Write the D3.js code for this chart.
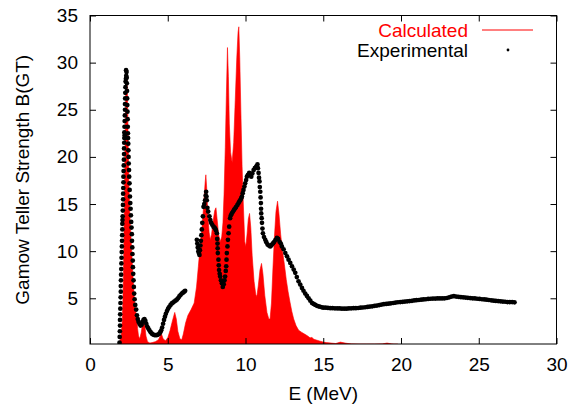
<!DOCTYPE html>
<html>
<head>
<meta charset="utf-8">
<script src="https://cdn.jsdelivr.net/npm/d3@7"></script>
<style>
  html, body { margin: 0; padding: 0; background: #fff; }
  svg { display: block; }
  text { font-family: "Liberation Sans", Arial, Helvetica, sans-serif; }
</style>
</head>
<body>
<svg id="chart" width="578" height="405"></svg>
<script>
// ---- data (E in MeV, B(GT)) ----
const xTicks = [0, 5, 10, 15, 20, 25, 30];
const yTicks = [5, 10, 15, 20, 25, 30, 35];
const legendLabels = ["Calculated", "Experimental"];

const calculated = [
  [1.8,0],[1.9,0.3],[2.0,1.0],[2.07,2.5],[2.12,5],[2.16,9],[2.2,14],[2.24,20],[2.28,25],[2.33,28.8],
  [2.38,28.5],[2.42,25.5],[2.46,21],[2.5,17],[2.56,14],[2.62,12],[2.68,10],[2.74,8],[2.79,6.6],[2.85,5],
  [2.92,3.8],[3.0,3.0],[3.06,1.8],[3.12,1.0],[3.2,0.7],[3.3,1.4],[3.38,2.4],[3.45,2.9],[3.52,2.2],[3.6,1.0],
  [3.7,0.4],[3.85,0.25],[4.0,0.3],[4.2,0.4],[4.4,0.6],[4.52,1.0],[4.6,1.2],[4.7,0.7],[4.85,0.5],[5.0,0.8],
  [5.15,1.6],[5.3,2.6],[5.45,3.5],[5.55,2.8],[5.65,1.5],[5.78,0.7],[5.9,0.6],[6.0,1.2],[6.15,2.4],[6.3,3.2],
  [6.5,3.8],[6.7,4.5],[6.85,6.2],[6.97,8.4],[7.08,10.5],[7.19,12.2],[7.3,14.6],[7.4,17.2],[7.45,18.1],[7.5,16.8],
  [7.58,13.8],[7.66,12.0],[7.73,11.2],[7.82,11.8],[7.92,13.2],[8.02,14.3],[8.1,14.6],[8.18,13.3],[8.27,11.8],[8.37,11.0],
  [8.47,11.5],[8.55,13],[8.62,16],[8.7,21],[8.77,26.5],[8.84,31.6],[8.9,28.5],[8.96,23.5],[9.04,20.5],[9.14,19.4],
  [9.24,21.5],[9.34,26],[9.44,30.5],[9.52,33.2],[9.57,33.8],[9.63,30.5],[9.7,25],[9.78,19],[9.86,15],[9.95,11],
  [10.02,10.5],[10.1,11.8],[10.18,13.4],[10.26,14.0],[10.34,12.5],[10.43,9.5],[10.55,6.8],[10.66,5.4],[10.73,5.2],[10.82,6.3],
  [10.93,8.0],[11.03,8.7],[11.12,7.6],[11.24,5.3],[11.38,3.5],[11.5,2.8],[11.58,2.8],[11.67,4.5],[11.76,8],[11.86,11.5],
  [11.96,14.2],[12.06,15.3],[12.15,14],[12.26,11.8],[12.38,10],[12.5,8.6],[12.62,7],[12.74,5.7],[12.86,4.6],[12.98,3.6],
  [13.1,2.8],[13.25,2.1],[13.42,1.6],[13.6,1.4],[13.8,1.2],[14.0,1.0],[14.15,0.8],[14.27,0.85],[14.4,0.65],[14.6,0.55],
  [14.8,0.45],[15.0,0.35],[15.2,0.3],[15.5,0.25],[15.8,0.2],[16.1,0.35],[16.4,0.25],[16.8,0.15],[17.3,0.1],[17.8,0.1],
  [18.3,0.1],[18.8,0.15],[19.1,0.25],[19.4,0.15],[19.8,0]
];

const experimental = [
  // first peak, rising flank
  [1.90,0.3],[1.91,0.9],[1.92,1.5],[1.93,2.1],[1.93,2.7],[1.94,3.3],[1.95,3.9],[1.96,4.5],[1.97,5.1],[1.98,5.7],
  [1.98,6.3],[1.99,6.9],[2.00,7.5],[2.01,8.1],[2.02,8.7],[2.03,9.3],[2.04,9.9],[2.05,10.5],[2.06,11.1],[2.07,11.7],
  [2.08,12.3],[2.08,12.9],[2.09,13.3],[2.10,13.7],[2.11,14.3],[2.12,14.9],[2.13,15.5],[2.13,16.1],[2.14,16.7],[2.15,17.3],
  [2.15,17.9],[2.16,18.5],[2.17,19.1],[2.18,19.7],[2.19,20.3],[2.19,20.9],[2.20,21.5],[2.21,22.0],[2.23,22.3],[2.25,22.0],
  [2.21,22.6],[2.22,23.2],[2.23,23.8],[2.24,24.4],[2.25,25.0],[2.25,25.6],[2.26,26.2],[2.27,26.8],[2.28,27.4],[2.29,28.0],
  [2.31,28.3],[2.33,28.6],[2.32,29.2],
  // first peak, falling flank
  [2.35,29.0],[2.36,28.4],[2.37,27.8],[2.38,27.0],[2.39,26.2],[2.40,25.5],[2.41,24.8],[2.42,24.0],[2.43,23.2],[2.44,22.5],
  [2.45,22.0],[2.46,21.4],[2.47,20.7],[2.48,20.0],[2.49,19.3],[2.51,18.6],[2.52,17.9],[2.54,17.2],[2.55,16.5],[2.57,15.8],
  [2.59,15.1],[2.61,14.5],[2.63,13.8],[2.65,13.1],[2.67,12.5],[2.69,11.8],[2.70,11.1],[2.72,10.4],[2.73,9.7],[2.75,9.0],
  [2.76,8.3],[2.78,7.6],[2.80,6.9],[2.82,6.2],[2.84,5.5],[2.87,4.9],[2.91,4.3],[2.97,3.8],
  // low region 3-6 MeV
  [3.02,3.2],[3.07,2.8],[3.12,2.5],[3.18,2.3],[3.25,2.1],[3.32,2.2],[3.38,2.5],[3.44,2.7],[3.50,2.8],[3.56,2.6],
  [3.62,2.3],[3.68,2.0],[3.75,1.8],[3.82,1.6],[3.90,1.4],[3.98,1.25],[4.06,1.15],[4.14,1.1],[4.22,1.1],[4.30,1.1],
  [4.38,1.15],[4.46,1.25],[4.52,1.4],[4.58,1.6],[4.64,1.9],[4.70,2.3],[4.76,2.7],[4.82,3.05],[4.88,3.35],[4.95,3.65],
  [5.02,3.9],[5.10,4.1],[5.18,4.3],[5.26,4.45],[5.34,4.55],[5.42,4.65],[5.50,4.75],[5.58,4.85],[5.66,5.0],[5.74,5.2],
  [5.82,5.35],[5.90,5.5],[5.98,5.6],[6.06,5.7],[6.12,5.8],
  // 7-11 MeV region
  [6.87,11.2],[6.90,10.8],[6.93,10.4],[6.97,10.0],[7.00,9.8],[7.04,9.6],[7.07,10.1],[7.10,10.6],[7.13,11.1],[7.16,11.7],
  [7.19,12.3],[7.22,13.0],[7.26,13.7],[7.30,14.7],[7.35,15.0],[7.40,15.4],[7.44,15.9],[7.47,16.3],[7.49,15.8],[7.51,15.4],
  [7.55,14.6],[7.60,14.2],[7.68,13.7],[7.74,13.3],[7.79,13.0],[7.86,12.8],[7.94,12.6],[8.00,12.5],[8.05,12.4],[8.10,12.2],
  [8.16,11.9],[8.18,11.3],[8.20,10.8],[8.21,10.3],[8.22,9.8],[8.26,9.1],[8.28,8.5],[8.30,8.0],[8.34,7.6],[8.37,7.3],
  [8.42,6.9],[8.48,6.6],[8.54,6.2],[8.60,6.5],[8.65,6.9],[8.69,7.3],[8.73,7.9],[8.76,8.4],[8.78,9.1],[8.80,9.8],
  [8.84,10.5],[8.87,11.2],[8.91,11.9],[8.95,12.6],[9.01,13.5],[9.06,13.8],[9.12,14.0],[9.20,14.2],[9.27,14.4],[9.34,14.55],
  [9.40,14.7],[9.48,14.9],[9.55,15.1],[9.60,15.25],[9.66,15.4],[9.72,15.6],[9.77,15.8],[9.82,16.15],[9.87,16.5],[9.93,16.85],
  [9.98,17.2],[10.04,17.55],[10.09,17.9],[10.16,18.1],[10.24,18.3],[10.30,18.1],[10.37,17.9],[10.44,18.25],[10.52,18.6],[10.60,18.8],
  [10.69,19.0],[10.77,19.2],[10.80,18.8],[10.84,18.3],[10.87,17.8],[10.90,17.4],[10.92,16.8],[10.95,16.3],[10.97,15.7],[10.99,15.1],
  [11.00,14.5],[11.01,14.0],[11.04,13.5],[11.06,13.0],[11.09,12.4],[11.12,11.9],[11.19,11.5],[11.27,11.2],[11.34,10.95],[11.42,10.7],
  [11.50,10.6],[11.59,10.5],[11.65,10.6],[11.70,10.7],[11.78,10.85],[11.85,11.0],[11.93,11.2],[12.02,11.4],[12.10,11.3],[12.19,11.0],
  [12.27,10.8],[12.34,10.5],[12.45,10.2],[12.56,9.8],[12.67,9.45],[12.77,9.1],[12.88,8.75],[12.99,8.4],[13.10,8.05],[13.20,7.7],
  [13.30,7.25],[13.41,6.8],[13.52,6.45],[13.63,6.1],[13.73,5.8],[13.84,5.5],[13.95,5.25],[14.06,5.0],[14.17,4.75],[14.28,4.5],
  [14.38,4.4],[14.49,4.3],
  // tail
  [14.6,4.2],[14.7,4.15],[14.8,4.1],[14.9,4.05],[15.0,4.0],[15.15,4.0],[15.3,3.98],[15.45,3.95],[15.6,3.95],[15.75,3.93],
  [15.9,3.92],[16.05,3.92],[16.2,3.9],[16.35,3.9],[16.5,3.9],[16.65,3.92],[16.8,3.93],[16.95,3.95],[17.1,3.95],[17.25,3.97],
  [17.4,4.0],[17.55,4.02],[17.7,4.05],[17.85,4.08],[18.0,4.12],[18.15,4.15],[18.3,4.2],[18.45,4.23],[18.6,4.28],[18.75,4.33],
  [18.9,4.37],[19.05,4.4],[19.2,4.43],[19.35,4.47],[19.5,4.5],[19.65,4.55],[19.8,4.58],[19.95,4.6],[20.1,4.62],[20.25,4.65],
  [20.4,4.68],[20.55,4.7],[20.7,4.73],[20.85,4.77],[21.0,4.8],[21.15,4.82],[21.3,4.85],[21.45,4.88],[21.6,4.9],[21.75,4.93],
  [21.9,4.95],[22.05,4.97],[22.2,4.97],[22.35,4.98],[22.5,4.98],[22.65,4.98],[22.8,5.0],[22.95,5.03],[23.1,5.1],[23.25,5.18],
  [23.4,5.22],[23.55,5.18],[23.7,5.15],[23.85,5.12],[24.0,5.1],[24.15,5.07],[24.3,5.05],[24.45,5.02],[24.6,5.0],[24.75,4.98],
  [24.9,4.95],[25.05,4.93],[25.2,4.9],[25.35,4.88],[25.5,4.85],[25.65,4.82],[25.8,4.78],[25.95,4.75],[26.1,4.72],[26.25,4.7],
  [26.4,4.68],[26.55,4.65],[26.7,4.63],[26.85,4.6],[27.0,4.6],[27.15,4.6],[27.3,4.57]
];

// ---- layout ----
const W = 578, H = 405;
const L = 90, R = 556.5, T = 15.5, B = 344;
const fontSize = 19;

const svg = d3.select("#chart");
const x = d3.scaleLinear().domain([0, 30]).range([L, R]);
const y = d3.scaleLinear().domain([0.15, 35]).range([B, T]);

svg.append("rect").attr("width", W).attr("height", H).attr("fill", "#fff");

svg.append("defs").append("clipPath").attr("id", "plotclip")
  .append("rect").attr("x", L).attr("y", T).attr("width", R - L).attr("height", B - T);

const plot = svg.append("g").attr("clip-path", "url(#plotclip)");

// calculated (filled)
const area = d3.area()
  .x(d => x(d[0]))
  .y0(y(0.15))
  .y1(d => y(d[1]));
plot.append("path").datum(calculated)
  .attr("d", area)
  .attr("fill", "#ff0000")
  .attr("stroke", "#ff0000")
  .attr("stroke-width", 0.6);

// experimental (dots)
plot.append("g").selectAll("circle").data(experimental).join("circle")
  .attr("cx", d => x(d[0]))
  .attr("cy", d => y(d[1]))
  .attr("r", 2.35)
  .attr("fill", "#000");

// axes
const tickLen = 6;
const gx = svg.append("g").attr("transform", `translate(0,${B})`)
  .call(d3.axisBottom(x).tickValues(xTicks).tickSize(-tickLen).tickPadding(14).tickFormat(d3.format("d")));
const gxTop = svg.append("g").attr("transform", `translate(0,${T})`)
  .call(d3.axisTop(x).tickValues(xTicks).tickSize(-tickLen).tickFormat(""));
const gy = svg.append("g").attr("transform", `translate(${L},0)`)
  .call(d3.axisLeft(y).tickValues(yTicks).tickSize(-tickLen).tickPadding(12).tickFormat(d3.format("d")));
const gyR = svg.append("g").attr("transform", `translate(${R},0)`)
  .call(d3.axisRight(y).tickValues(yTicks).tickSize(-tickLen).tickFormat(""));

[gx, gxTop, gy, gyR].forEach(g => {
  g.select(".domain").remove();
  g.selectAll(".tick line").attr("stroke", "#000").attr("stroke-width", 1);
  g.selectAll("text").attr("font-size", fontSize).attr("fill", "#000")
    .attr("font-family", '"Liberation Sans", Arial, sans-serif');
});

// border
svg.append("rect").attr("x", L).attr("y", T).attr("width", R - L).attr("height", B - T)
  .attr("fill", "none").attr("stroke", "#000").attr("stroke-width", 1);

// axis titles
svg.append("text").attr("x", (L + R) / 2).attr("y", 400)
  .attr("text-anchor", "middle").attr("font-size", fontSize).text("E (MeV)");
svg.append("text").attr("transform", `translate(29,${(T + B) / 2 - 0}) rotate(-90)`)
  .attr("text-anchor", "middle").attr("font-size", fontSize).text("Gamow Teller Strength B(GT)");

// legend
const lg = svg.append("g");
lg.append("text").attr("x", 468).attr("y", 36.5).attr("text-anchor", "end")
  .attr("font-size", fontSize).attr("fill", "#ff0000").text(legendLabels[0]);
lg.append("line").attr("x1", 482).attr("x2", 533).attr("y1", 30).attr("y2", 30)
  .attr("stroke", "#ff0000").attr("stroke-width", 1);
lg.append("text").attr("x", 468).attr("y", 56.5).attr("text-anchor", "end")
  .attr("font-size", fontSize).attr("fill", "#000").text(legendLabels[1]);
lg.append("circle").attr("cx", 508).attr("cy", 50).attr("r", 1.4).attr("fill", "#000");
</script>
</body>
</html>
